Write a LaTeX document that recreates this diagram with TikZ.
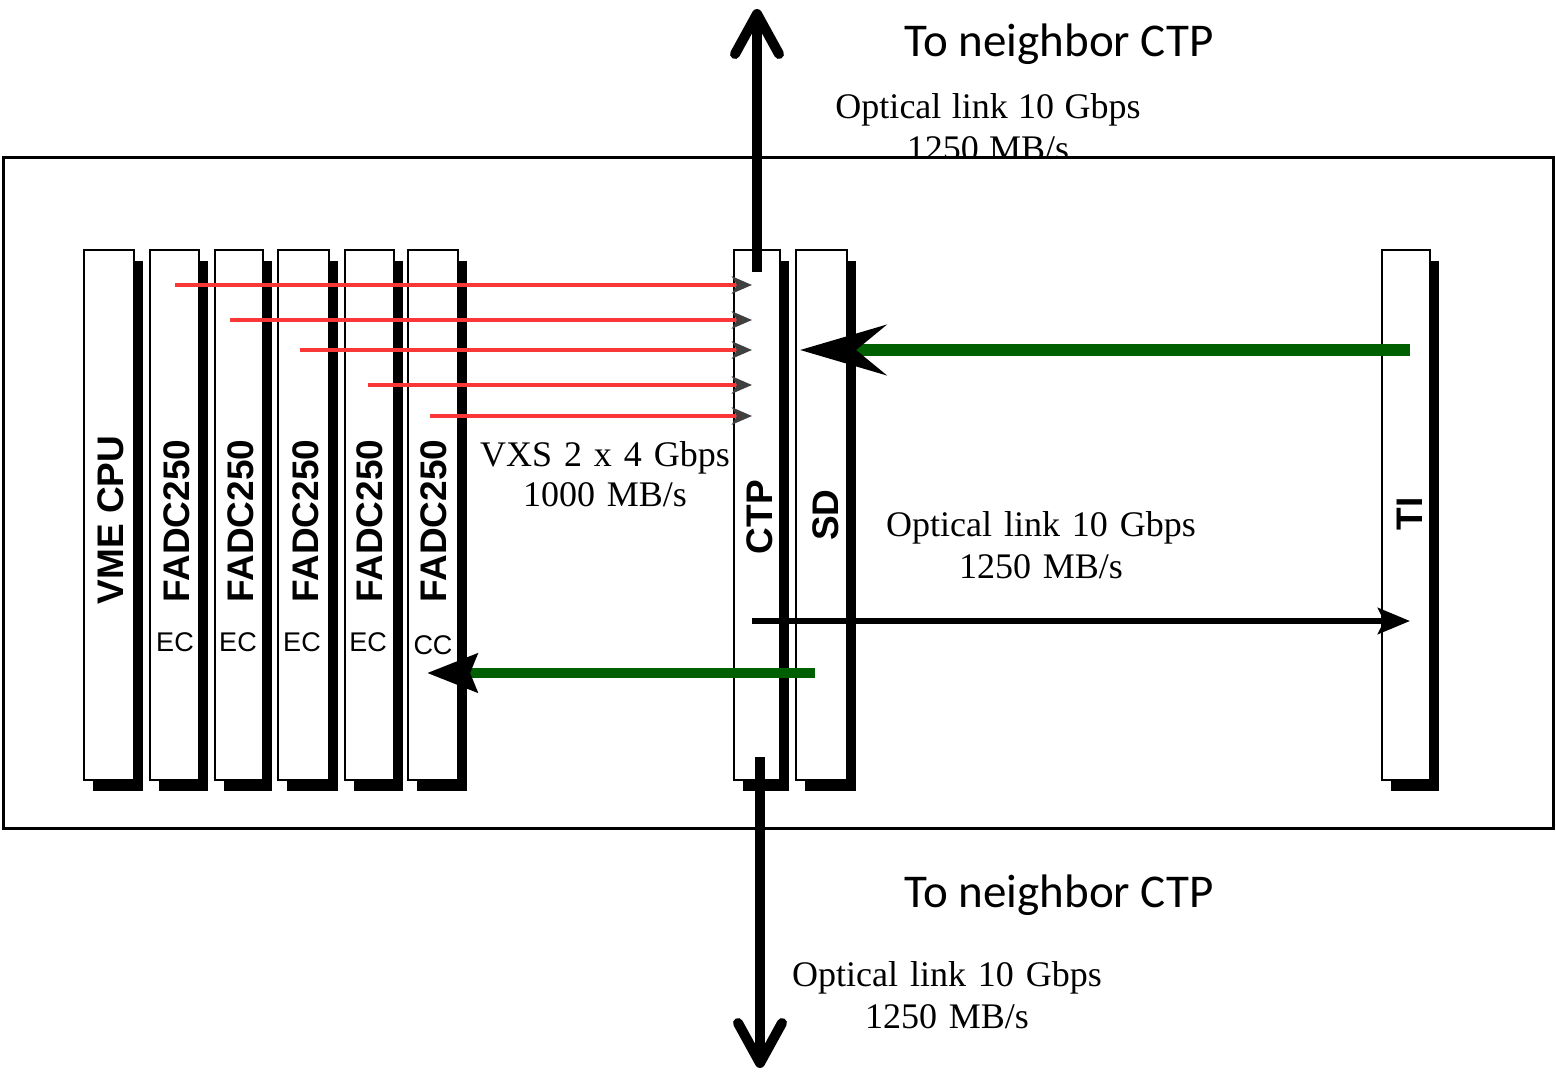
\documentclass[tikz,border=0pt]{standalone}
\usepackage{fontspec}
\setmainfont{Liberation Serif}
\newfontfamily\calibfont{Carlito}
\newfontfamily\arialfont{Liberation Sans}
\newfontfamily\serifwide[WordSpace=1.55]{Liberation Serif}
\newfontfamily\serifnarrow[WordSpace=1.15]{Liberation Serif}
\usetikzlibrary{arrows.meta,shadows}
\definecolor{linkred}{RGB}{250,55,55}
\definecolor{linkgreen}{RGB}{0,95,0}
\tikzset{
  card/.style={draw=black, line width=1.5pt, fill=white, inner sep=0pt,
    minimum height=530pt,
    general shadow={fill=black, shadow xshift=9pt, shadow yshift=-11pt}},
  cardlabel/.style={rotate=90, inner sep=0pt, font=\arialfont\bfseries\fontsize{37}{40}\selectfont},
  sublabel/.style={inner sep=0pt, font=\arialfont\fontsize{27}{30}\selectfont},
  ratetext/.style={inner sep=0pt, align=center, font=\serifwide\fontsize{36}{42}\selectfont},
  vxstext/.style={inner sep=0pt, align=center, font=\serifnarrow\fontsize{36}{40}\selectfont},
  neighbortext/.style={inner sep=0pt, font=\calibfont\fontsize{47}{56}\selectfont},
  redarrow/.style={draw=linkred, line width=4.5pt, -{Stealth[length=20pt,width=17pt,inset=5pt,color=black!75]}},
  vlink/.style={draw=black, line width=10pt, -{Straight Barb[length=40pt,width=44pt,round]}},
}
\begin{document}
\begin{tikzpicture}[x=1pt,y=-1pt]
\useasboundingbox (0,0) rectangle (1556,1076);

% top texts (partly hidden by crate box)
\node[neighbortext] (ntop) at (1059,44) {To neighbor CTP};
\node[ratetext] (otop) at (988,127) {Optical link 10 Gbps\\1250 MB/s};

% crate
\node[draw=black, line width=3pt, fill=white, inner sep=0pt,
  minimum width=1550pt, minimum height=671pt] (crate) at (778,492.5) {};

% cards
\node[card, minimum width=50pt] (vme) at (109,515) {};
\node[card, minimum width=49pt] (f1) at (174.5,515) {};
\node[card, minimum width=48pt] (f2) at (239,515) {};
\node[card, minimum width=51pt] (f3) at (303.5,515) {};
\node[card, minimum width=49pt] (f4) at (369.5,515) {};
\node[card, minimum width=50pt] (f5) at (433,515) {};
\node[card, minimum width=46pt] (ctp) at (757,515) {};
\node[card, minimum width=51pt] (sd) at (821.5,515) {};
\node[card, minimum width=48pt] (ti) at (1406,515) {};

% card labels
\node[cardlabel] (lvme) at (111,520) {VME CPU};
\node[cardlabel] (lf1) at (177,521) {FADC250};
\node[cardlabel] (lf2) at (241,521) {FADC250};
\node[cardlabel] (lf3) at (306,521) {FADC250};
\node[cardlabel] (lf4) at (370,521) {FADC250};
\node[cardlabel] (lf5) at (434,521) {FADC250};
\node[cardlabel] (lctp) at (760,517) {CTP};
\node[cardlabel] (lsd) at (826,515) {SD};
\node[cardlabel] (lti) at (1410,514) {TI};

\node[sublabel] (e1) at (175,642) {EC};
\node[sublabel] (e2) at (238,642) {EC};
\node[sublabel] (e3) at (302,642) {EC};
\node[sublabel] (e4) at (368,642) {EC};
\node[sublabel] (c5) at (433,645) {CC};

% rate texts
\node[vxstext] (vxs) at (605,474) {VXS 2 x 4 Gbps\\1000 MB/s};
\node[ratetext] (omid) at (1041,545) {Optical link 10 Gbps\\1250 MB/s};
\node[ratetext] (obot) at (947,995) {Optical link 10 Gbps\\1250 MB/s};
\node[neighbortext] (nbot) at (1059,895) {To neighbor CTP};

% red VXS links
\coordinate (r1s) at (175,285); \coordinate (r1e) at (752,285);
\coordinate (r2s) at (230,320); \coordinate (r2e) at (752,320);
\coordinate (r3s) at (300,350); \coordinate (r3e) at (752,350);
\coordinate (r4s) at (368,385); \coordinate (r4e) at (752,385);
\coordinate (r5s) at (430,416); \coordinate (r5e) at (752,416);
\draw[redarrow] (r1s) -- (r1e);
\draw[redarrow] (r2s) -- (r2e);
\draw[redarrow] (r3s) -- (r3e);
\draw[redarrow] (r4s) -- (r4e);
\draw[redarrow] (r5s) -- (r5e);

% green links
\coordinate (g1s) at (1410,350); \coordinate (g1e) at (800,350);
\draw[draw=linkgreen, line width=12pt,
  -{Stealth[length=86pt,width=50pt,inset=30pt,color=black]}] (g1s) -- (g1e);
\coordinate (g2s) at (815,673); \coordinate (g2e) at (427,673);
\draw[draw=linkgreen, line width=10pt,
  -{Stealth[length=50pt,width=38pt,inset=7pt,color=black]}] (g2s) -- (g2e);

% black link CTP -> TI
\coordinate (bs) at (752,621); \coordinate (be) at (1410,621);
\draw[draw=black, line width=6pt,
  -{Stealth[length=32pt,width=26pt,inset=6pt]}] (bs) -- (be);

% vertical optical links to neighbours
\coordinate (vts) at (757,272); \coordinate (vte) at (757,9);
\draw[vlink] (vts) -- (vte);
\coordinate (vbs) at (760,757); \coordinate (vbe) at (760,1068);
\draw[vlink] (vbs) -- (vbe);
\end{tikzpicture}
\end{document}
